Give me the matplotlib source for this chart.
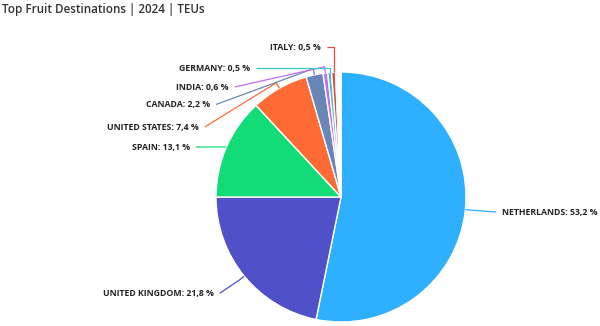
import matplotlib
matplotlib.use("Agg")
import matplotlib.pyplot as plt
import numpy as np

title = "Top Fruit Destinations | 2024 | TEUs"
countries = ["NETHERLANDS", "UNITED KINGDOM", "SPAIN", "UNITED STATES", "CANADA",
             "INDIA", "GERMANY", "ITALY", "", "", "", ""]
shares = [53.2, 21.8, 13.1, 7.4, 2.2, 0.6, 0.5, 0.5, 0.2, 0.2, 0.15, 0.15]
colors = ["#2EAFFF", "#5050C8", "#12DC78", "#FF6B35", "#6A86B8",
          "#C46CF5", "#3CC8C8", "#E84A3C", "#F5A040", "#F2D43A", "#7DD86A", "#56D6C4"]

# label layout (data units, pie radius = 1): text anchor x, y
label_pos = {
    "NETHERLANDS": (1.29, -0.12, "left"),
    "UNITED KINGDOM": (-1.02, -0.77, "right"),
    "SPAIN": (-1.21, 0.40, "right"),
    "UNITED STATES": (-1.14, 0.56, "right"),
    "CANADA": (-1.05, 0.74, "right"),
    "INDIA": (-0.90, 0.88, "right"),
    "GERMANY": (-0.73, 1.03, "right"),
    "ITALY": (-0.16, 1.20, "right"),
}

plt.rcParams['font.family'] = ['Open Sans', 'DejaVu Sans']
fig = plt.figure(figsize=(6.0, 3.26), dpi=100)
ax = fig.add_axes([0, 0, 1, 1])
cx, cy, R = 341, 197, 125

wedges, _ = ax.pie(shares, colors=colors, startangle=90, counterclock=False,
                   radius=1.0, center=(0, 0),
                   wedgeprops=dict(edgecolor="white", linewidth=1.0))
ax.set_xlim(-cx / R, (600 - cx) / R)
ax.set_ylim((cy - 326) / R, cy / R)
ax.set_aspect('equal')
ax.axis('off')

for w, name, val, col in zip(wedges, countries, shares, colors):
    if not name:
        continue
    ang = np.deg2rad((w.theta1 + w.theta2) / 2)
    ax_, ay_ = np.cos(ang), np.sin(ang)
    lx, ly, ha = label_pos[name]
    gap = 0.05 if ha == "left" else -0.05
    endx = lx - gap
    if name in ("ITALY", "GERMANY"):
        xs = [ax_, ax_, endx]
        ys = [ay_, ly, ly]
    elif name == "SPAIN":
        xs = [ax_, endx]
        ys = [ay_, ly]
    else:
        ex, ey = 1.05 * ax_, 1.05 * ay_
        xs = [ax_, ex, endx]
        ys = [ay_, ey, ly]
    ax.plot(xs, ys, color=col, lw=0.9, solid_capstyle='butt')
    ax.text(lx, ly, f"{name}: {str(val).replace('.', ',')} %", ha=ha, va="center",
            fontsize=6.3, fontweight="bold", color="#252423")

fig.text(2 / 600, 1 - 10 / 326, title, ha="left", va="center", fontsize=8.4,
         fontweight="semibold", color="#333333")

fig.savefig("out.png", dpi=100)
